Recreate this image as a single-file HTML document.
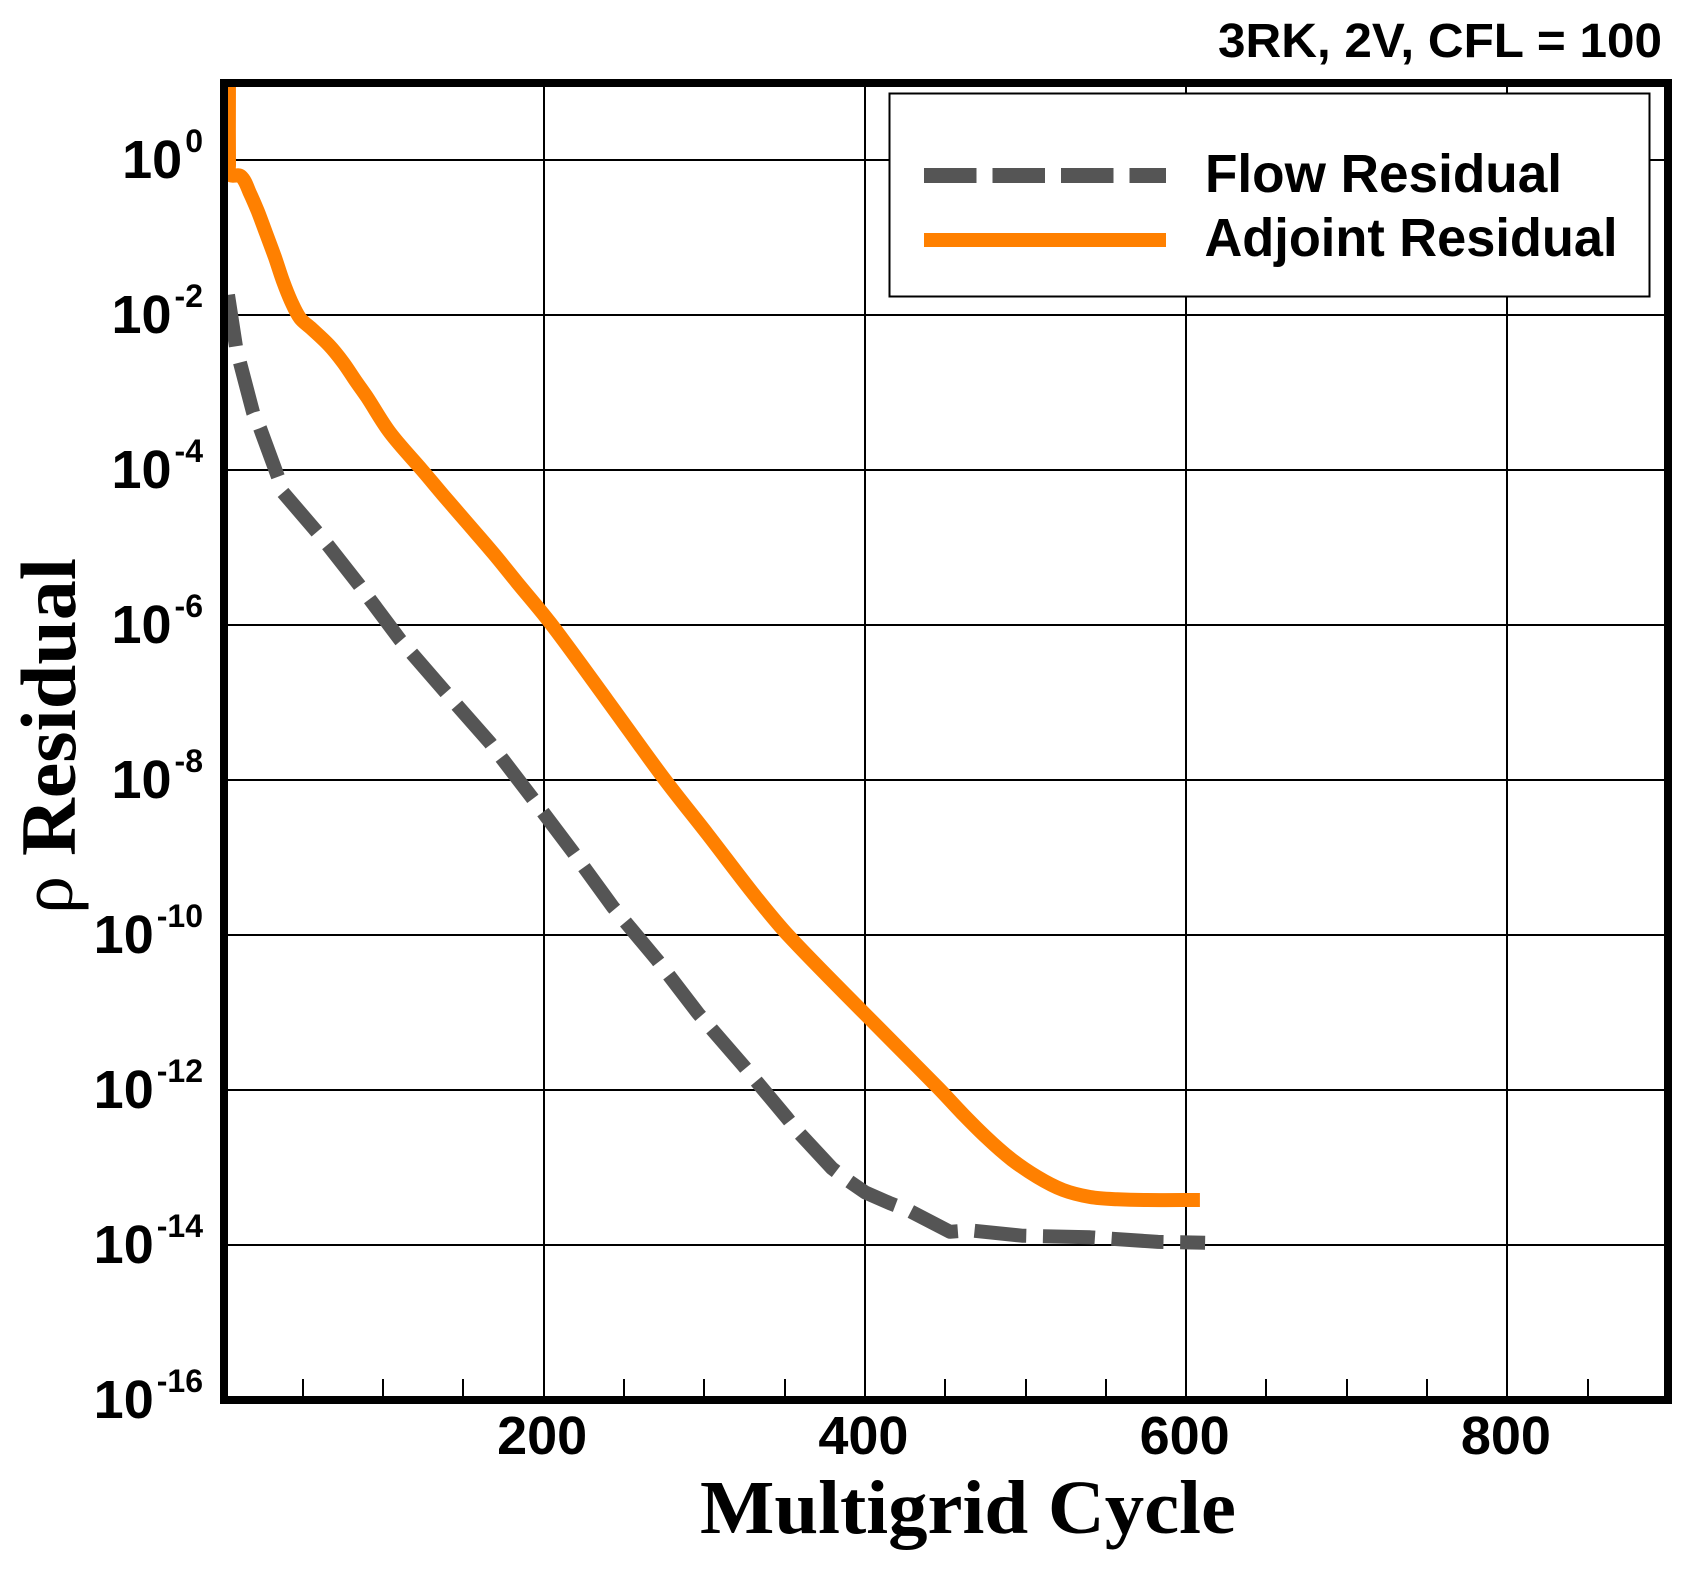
<!DOCTYPE html>
<html lang="en">
<head>
<meta charset="utf-8">
<title>3RK, 2V, CFL = 100 residual convergence</title>
<style>
html,body{margin:0;padding:0;background:#fff;width:1694px;height:1576px;overflow:hidden}
svg{display:block}
.sans{font-family:"Liberation Sans",Arial,sans-serif;font-weight:700;fill:#000}
.serif{font-family:"Liberation Serif","Times New Roman",serif;font-weight:700;fill:#000}
</style>
</head>
<body>
<svg id="chart" xmlns="http://www.w3.org/2000/svg" width="1694" height="1576" viewBox="0 0 1694 1576">
  <defs>
    <clipPath id="plot-clip"><rect x="228" y="87" width="1436" height="1309"/></clipPath>
  </defs>
  <rect x="0" y="0" width="1694" height="1576" fill="#fff"/>
  <g id="grid"></g>
  <g id="minor-ticks"></g>
  <g id="series" clip-path="url(#plot-clip)"></g>
  <rect x="224" y="83" width="1444" height="1317" fill="none" stroke="#000" stroke-width="8"/>
  <g id="x-labels"></g>
  <g id="y-labels"></g>

  <text class="sans" x="1218" y="57" font-size="48" textLength="444" lengthAdjust="spacingAndGlyphs">3RK, 2V, CFL = 100</text>
  <text class="serif" x="700" y="1533" font-size="76" textLength="536" lengthAdjust="spacingAndGlyphs">Multigrid Cycle</text>
  <g>
    <text transform="translate(72,914) rotate(-90)" font-family="'Liberation Serif',serif" font-size="76" fill="#000">ρ</text>
    <text class="serif" transform="translate(75,856) rotate(-90)" font-size="78" textLength="298" lengthAdjust="spacingAndGlyphs">Residual</text>
  </g>

  <g>
    <rect x="889.5" y="93.5" width="760" height="203" fill="#fff" stroke="#000" stroke-width="2"/>
    <line x1="924" y1="175.5" x2="1166" y2="175.5" stroke="#555555" stroke-width="15" stroke-dasharray="52.5 16"/>
    <line x1="924" y1="240" x2="1166" y2="240" stroke="#ff8000" stroke-width="14"/>
    <text class="sans" x="1205" y="192" font-size="54" textLength="357" lengthAdjust="spacingAndGlyphs">Flow Residual</text>
    <text class="sans" x="1204.5" y="256" font-size="54" textLength="413" lengthAdjust="spacingAndGlyphs">Adjoint Residual</text>
  </g>
</svg>
<script>
// Chart data: multigrid cycle and log10(residual)
var adjointCycles = [4.1,4.1,4.7,11.6,17.2,22.2,27.1,32.8,37.7,42.7,48.3,55.2,66.4,75.1,82.6,90,104.4,124.3,137.3,152.3,168.5,183.4,204,239.5,275.6,301.7,330.3,352.1,400.1,445.5,460.5,476,491.6,507.2,523.4,540.2,557,575.6,608.6];
var adjointLogResidual = [1.29,-0.065,-0.19,-0.21,-0.43,-0.67,-0.94,-1.26,-1.56,-1.82,-2.04,-2.17,-2.39,-2.61,-2.84,-3.06,-3.52,-4,-4.32,-4.68,-5.07,-5.45,-5.97,-6.97,-8,-8.69,-9.46,-10,-11.02,-11.97,-12.3,-12.62,-12.9,-13.12,-13.29,-13.38,-13.41,-13.42,-13.42];
var flowCycles = [3.5,8.5,11,19.1,23.4,34.6,36.5,58.9,65.7,85,110.6,138.6,166.6,192.8,218.3,243.2,270.6,296.1,324.1,351.5,358.4,379.5,388.9,400.1,415.6,426.9,453,465.4,497.8,540.2,582.5,611.8];
var flowLogResidual = [-1.74,-2.41,-2.62,-3.26,-3.46,-4.09,-4.26,-4.8,-4.97,-5.48,-6.19,-6.86,-7.52,-8.23,-8.93,-9.64,-10.32,-11.01,-11.68,-12.36,-12.54,-13.01,-13.16,-13.32,-13.46,-13.55,-13.83,-13.81,-13.88,-13.9,-13.96,-13.97];
var xMajorTicks = [200,400,600,800];
var xMinorTicks = [50,100,150,250,300,350,450,500,550,650,700,750,850];
var yTickExponents = [0,-2,-4,-6,-8,-10,-12,-14,-16];

var NS = 'http://www.w3.org/2000/svg';
function xScale(c){ return 224 + (c - 1) * 1444 / 899; }
function yScale(l){ return 160 - l * 77.5; }
function make(tag, parent){
  var el = document.createElementNS(NS, tag);
  parent.appendChild(el);
  return el;
}
function setLine(el, x1, y1, x2, y2, w){
  el.setAttribute('x1', x1);
  el.setAttribute('y1', y1);
  el.setAttribute('x2', x2);
  el.setAttribute('y2', y2);
  el.setAttribute('stroke', '#000');
  el.setAttribute('stroke-width', w);
}
var grid = document.getElementById('grid');
var minor = document.getElementById('minor-ticks');
var xLabels = document.getElementById('x-labels');
var yLabels = document.getElementById('y-labels');
var series = document.getElementById('series');

xMajorTicks.forEach(function(v){
  var px = Math.round(xScale(v));
  var gl = make('line', grid);
  
  
  setLine(gl, px, 87, px, 1396, 2);
  var t = make('text', xLabels);
  
  
  t.setAttribute('class', 'sans');
  t.setAttribute('x', xScale(v) - 1.5);
  t.setAttribute('y', 1454);
  t.setAttribute('text-anchor', 'middle');
  t.setAttribute('font-size', '54');
  t.textContent = String(v);
});
xMinorTicks.forEach(function(v){
  var px = Math.round(xScale(v));
  var tk = make('line', minor);
  
  
  setLine(tk, px, 1379, px, 1396, 2);
});
yTickExponents.forEach(function(e){
  var py = yScale(e);
  if (e > -16) {
    var gl = make('line', grid);
    
    
    setLine(gl, 228, Math.round(py), 1664, Math.round(py), 2);
  }
  var t = make('text', yLabels);
  
  
  t.setAttribute('class', 'sans');
  t.setAttribute('x', 203);
  t.setAttribute('y', py + 18);
  t.setAttribute('text-anchor', 'end');
  t.setAttribute('font-size', '54');
  t.appendChild(document.createTextNode('10'));
  var s = make('tspan', t);
  s.setAttribute('dx', '3');
  s.setAttribute('dy', '-26');
  s.setAttribute('font-size', '32');
  s.textContent = String(e);
});
function linearPath(pts){
  return pts.map(function(p, i){
    return (i ? 'L' : 'M') + p[0].toFixed(1) + ' ' + p[1].toFixed(1);
  }).join(' ');
}
function smoothPath(pts){
  var d = 'M' + pts[0][0].toFixed(1) + ' ' + pts[0][1].toFixed(1);
  for (var i = 0; i < pts.length - 1; i++) {
    var p0 = pts[Math.max(i - 1, 0)], p1 = pts[i], p2 = pts[i + 1], p3 = pts[Math.min(i + 2, pts.length - 1)];
    // limit the tangent length by the segment length so uneven spacing does not overshoot
    var seg = Math.hypot(p2[0] - p1[0], p2[1] - p1[1]);
    var l1 = Math.hypot(p2[0] - p0[0], p2[1] - p0[1]) || 1;
    var l2 = Math.hypot(p3[0] - p1[0], p3[1] - p1[1]) || 1;
    var c1x = p1[0] + (p2[0] - p0[0]) / l1 * seg / 3, c1y = p1[1] + (p2[1] - p0[1]) / l1 * seg / 3;
    var c2x = p2[0] - (p3[0] - p1[0]) / l2 * seg / 3, c2y = p2[1] - (p3[1] - p1[1]) / l2 * seg / 3;
    d += ' C' + c1x.toFixed(1) + ' ' + c1y.toFixed(1) + ' ' + c2x.toFixed(1) + ' ' + c2y.toFixed(1) + ' ' + p2[0].toFixed(1) + ' ' + p2[1].toFixed(1);
  }
  return d;
}
function drawSeries(xs, ys, color, width, dash, name, smooth){
  var p = make('path', series);
  
  
  var pts = xs.map(function(c, i){ return [xScale(c), yScale(ys[i])]; });
  p.setAttribute('d', smooth ? smoothPath(pts) : linearPath(pts));
  p.setAttribute('fill', 'none');
  p.setAttribute('stroke', color);
  p.setAttribute('stroke-width', width);
  p.setAttribute('stroke-linejoin', 'round');
  if (dash) p.setAttribute('stroke-dasharray', dash);
}
drawSeries(flowCycles, flowLogResidual, '#555555', 14, '52 16.7', 'flow-residual-line', false);
drawSeries(adjointCycles, adjointLogResidual, '#ff8000', 14, null, 'adjoint-residual-line', true);
</script>
</body>
</html>
